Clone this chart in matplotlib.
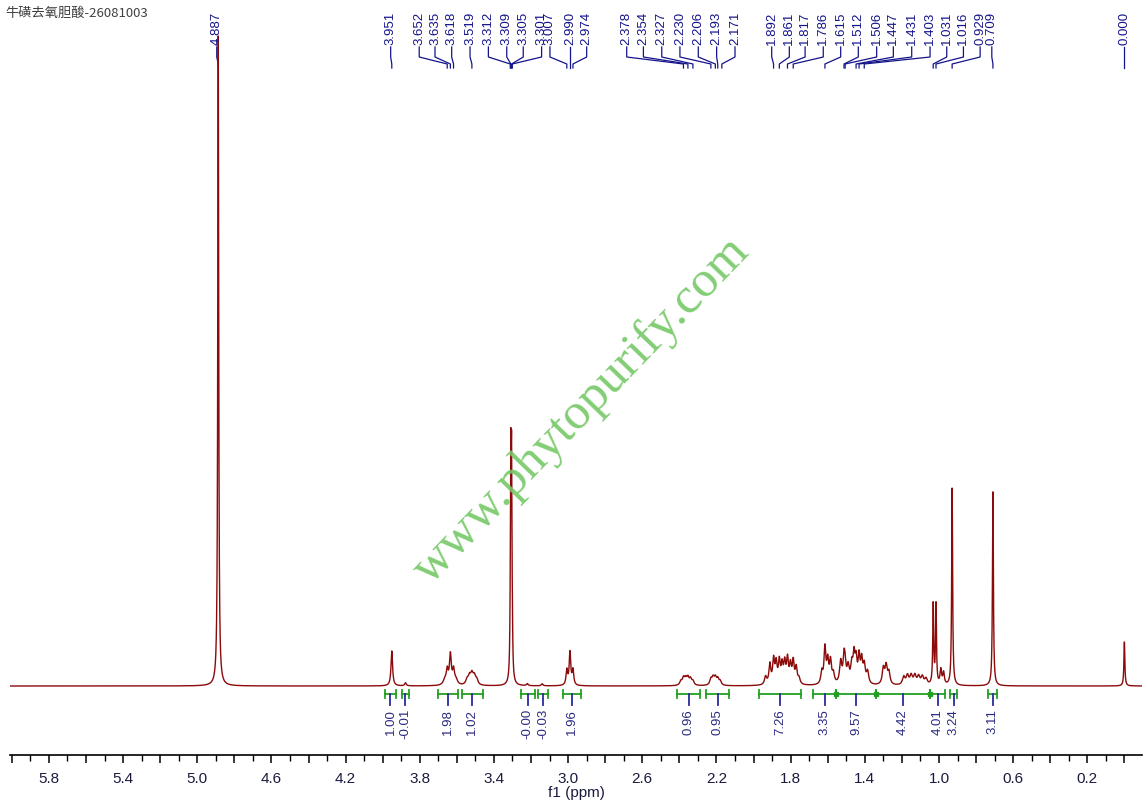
import numpy as np
import matplotlib
matplotlib.use("Agg")
import matplotlib.pyplot as plt
from matplotlib.ticker import MultipleLocator, FuncFormatter

# ---------------- data ----------------
title = "牛磺去氧胆酸-26081003"

# spectrum peaks (ppm, height in display units, half-width in ppm)
peak_ppm = [4.887, 3.951, 3.877,
            3.652, 3.635, 3.618, 3.665, 3.605,
            3.545, 3.532, 3.519, 3.506, 3.493,
            3.312, 3.309, 3.305, 3.301, 3.22, 3.14,
            3.007, 2.990, 2.974,
            2.392, 2.378, 2.366, 2.354, 2.340, 2.327,
            2.230, 2.218, 2.206, 2.193, 2.180,
            1.935, 1.912, 1.892, 1.878, 1.861, 1.846, 1.832, 1.817, 1.801, 1.786, 1.770, 1.755,
            1.632, 1.615, 1.600, 1.585, 1.570,
            1.530, 1.512, 1.506, 1.490, 1.470, 1.458, 1.447, 1.431, 1.417, 1.403, 1.385,
            1.300, 1.285, 1.270,
            1.19, 1.17, 1.15, 1.13, 1.11, 1.09, 1.07,
            1.031, 1.016, 0.990, 0.975,
            0.929, 0.709, 0.000]
peak_height = [650, 35, 3,
               14, 30, 14, 5, 5,
               5, 8, 10, 8, 5,
               25, 190, 190, 25, 2, 2,
               15, 33, 15,
               4, 7, 6, 7, 6, 4,
               6, 7, 7, 6, 4,
               8, 20, 24, 20, 22, 18, 20, 24, 18, 22, 16, 6,
               12, 36, 22, 22, 10,
               22, 24, 14, 16, 18, 26, 22, 26, 22, 18, 12,
               16, 18, 12,
               8, 9, 9, 9, 8, 8, 6,
               80, 80, 15, 12,
               198, 194, 44]
peak_hwhm = [0.003, 0.005, 0.005,
             0.006, 0.006, 0.006, 0.01, 0.01,
             0.008, 0.008, 0.008, 0.008, 0.008,
             0.0025, 0.0025, 0.0025, 0.0025, 0.005, 0.005,
             0.005, 0.005, 0.005,
             0.007, 0.007, 0.007, 0.007, 0.007, 0.007,
             0.007, 0.007, 0.007, 0.007, 0.007,
             0.007, 0.006, 0.006, 0.006, 0.006, 0.006, 0.006, 0.006, 0.006, 0.006, 0.006, 0.007,
             0.006, 0.006, 0.006, 0.006, 0.007,
             0.007, 0.006, 0.006, 0.007, 0.007, 0.006, 0.006, 0.006, 0.006, 0.007, 0.007,
             0.007, 0.007, 0.007,
             0.008, 0.008, 0.008, 0.008, 0.008, 0.008, 0.008,
             0.003, 0.003, 0.005, 0.005,
             0.003, 0.003, 0.003]

# labelled peak shifts (top)
label_shifts = [4.887, 3.951, 3.652, 3.635, 3.618, 3.519, 3.312, 3.309, 3.305, 3.301,
                3.007, 2.990, 2.974, 2.378, 2.354, 2.327, 2.230, 2.206, 2.193, 2.171,
                1.892, 1.861, 1.817, 1.786, 1.615, 1.512, 1.506, 1.447, 1.431, 1.403,
                1.031, 1.016, 0.929, 0.709, 0.000]

# integrals (bottom)
integral_from = [3.988, 3.898, 3.700, 3.574, 3.256, 3.161, 3.026, 2.411, 2.256,
                 1.969, 1.677, 1.557, 1.339, 1.048, 0.940, 0.734]
integral_to = [3.928, 3.857, 3.592, 3.461, 3.179, 3.107, 2.932, 2.289, 2.132,
               1.746, 1.557, 1.339, 1.048, 0.967, 0.901, 0.685]
integral_values = [1.00, -0.01, 1.98, 1.02, -0.0, -0.03, 1.96, 0.96, 0.95,
                   7.26, 3.35, 9.57, 4.42, 4.01, 3.24, 3.11]

# ---------------- layout ----------------
# label text positions (ppm) after de-overlapping, as in the reference
label_pos = [4.895, 3.957, 3.803, 3.718, 3.628, 3.529, 3.430, 3.331, 3.242, 3.143,
             3.098, 2.990, 2.900, 2.684, 2.594, 2.495, 2.397, 2.298, 2.199, 2.100,
             1.902, 1.807, 1.722, 1.624, 1.530, 1.435, 1.336, 1.246, 1.147, 1.048,
             0.958, 0.868, 0.778, 0.715, 0.000]

W, H = 1148, 806
fig = plt.figure(figsize=(W / 100, H / 100), dpi=100)
ax = fig.add_axes([10 / W, 1 - 755 / H, 1132 / W, 755 / H])

XL, XR = 6.010, -0.095
ax.set_xlim(XL, XR)
ax.set_ylim(-69, 686)

# watermark
fig.text(582 / W, 1 - 410 / H, "www.phytopurify.com", rotation=46,
         ha="center", va="center", fontsize=37, family="Liberation Serif",
         color="#74c865", alpha=0.9, zorder=0)

# spectrum
x = np.linspace(XL, XR, 16000)
y = np.zeros_like(x)
for p, h, g in zip(peak_ppm, peak_height, peak_hwhm):
    y += h * g ** 2 / ((x - p) ** 2 + g ** 2)
ax.plot(x, y, color="#8b0a0a", lw=1.0, zorder=3)

# peak labels
navy = "#14148a"
for s, lp in zip(label_shifts, label_pos):
    ax.text(lp, 686 - 45, f"{s:.3f}", rotation=90, ha="center", va="bottom",
            fontsize=9.5, family="Liberation Sans", color=navy, clip_on=False)
    ax.plot([lp, lp, s, s], [686 - 47, 686 - 57, 686 - 64, 686 - 68],
            color=navy, lw=0.9, clip_on=False)

# integrals
green = "#22a022"
iy = -8
for a, b, v in zip(integral_from, integral_to, integral_values):
    ax.plot([a, b], [iy, iy], color=green, lw=1.3)
    ax.plot([a, a], [iy - 4, iy + 4], color=green, lw=1.3)
    ax.plot([b, b], [iy - 4, iy + 4], color=green, lw=1.3)
    c = (a + b) / 2
    ax.plot([c, c], [iy, iy - 11], color="#2a2aa0", lw=1.3)
    ax.text(c, iy - 15, f"{v:.2f}", rotation=90, ha="center", va="top",
            fontsize=9.5, family="Liberation Sans", color="#2a2a80")
# junctions between adjacent integrals
for a, b in zip(integral_to[:-1], integral_from[1:]):
    if abs(a - b) < 1e-6:
        ax.plot([a], [iy], marker="s", ms=3.5, color=green)

# axes styling
for sp in ["left", "right", "top"]:
    ax.spines[sp].set_visible(False)
ax.spines["bottom"].set_linewidth(1.2)
ax.yaxis.set_visible(False)
ax.xaxis.set_major_locator(MultipleLocator(0.2))
ax.xaxis.set_minor_locator(MultipleLocator(0.1))
ax.xaxis.set_major_formatter(FuncFormatter(
    lambda v, pos: f"{v:.1f}" if int(round(v * 10)) % 4 == 2 else ""))
ax.tick_params(axis="x", which="major", length=6, width=1.1, direction="out",
               labelsize=11, pad=6, colors="black", labelcolor="#1a1a40")
ax.tick_params(axis="x", which="minor", length=4, width=1.0, direction="out")
for lab in ax.get_xticklabels():
    lab.set_family("Liberation Sans")
ax.set_xlabel("f1 (ppm)", fontsize=11, family="Liberation Sans", labelpad=0,
              color="#1a1a40")

# title
fig.text(5 / W, 1 - 13 / H, title, ha="left", va="center", fontsize=9.5,
         family=["Noto Sans CJK SC", "DejaVu Sans"], color="#404040")

fig.savefig("out.png", dpi=100)
